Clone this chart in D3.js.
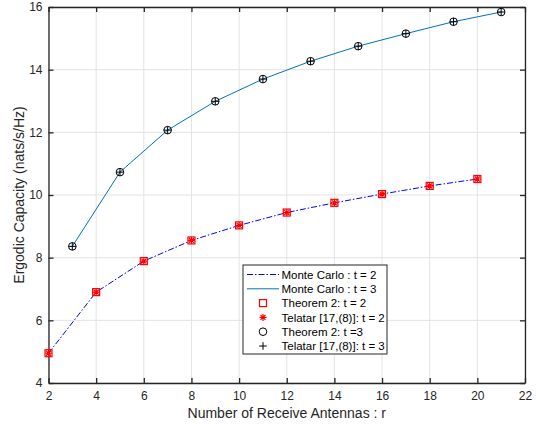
<!DOCTYPE html>
<html>
<head>
<meta charset="utf-8">
<script src="https://cdn.jsdelivr.net/npm/d3@7"></script>
<style>
  body { margin: 0; background: #fff; }
  text { font-family: "Liberation Sans", Arial, sans-serif; }
</style>
</head>
<body>
<svg id="chart" width="536" height="424"></svg>
<script>
// data
let r_t2 = [2, 4, 6, 8, 10, 12, 14, 16, 18, 20];
let cap_t2 = [4.95, 6.90, 7.89, 8.55, 9.03, 9.44, 9.75, 10.03, 10.29, 10.51];
let r_t3 = [3, 5, 7, 9, 11, 13, 15, 17, 19, 21];
let cap_t3 = [8.36, 10.73, 12.07, 12.99, 13.70, 14.27, 14.75, 15.15, 15.53, 15.84];
let x_ticks = [2, 4, 6, 8, 10, 12, 14, 16, 18, 20, 22];
let y_ticks = [4, 6, 8, 10, 12, 14, 16];
let legend_labels = ["Monte Carlo : t = 2", "Monte Carlo : t = 3", "Theorem 2: t = 2",
  "Telatar [17,(8)]: t = 2", "Theorem 2: t =3", "Telatar [17,(8)]: t = 3"];

let margin = {left: 48.5, right: 11, top: 7, bottom: 41}
  , W = 536, H = 424
  , svg = d3.select("#chart");

let x = d3.scaleLinear().domain([2, 22]).range([margin.left, W - margin.right]);
let y = d3.scaleLinear().domain([4, 16]).range([H - margin.bottom, margin.top]);

let axis_color = "#262626", grid_color = "#e3e3e3";

// grid
svg.append("g").selectAll("line").data(x_ticks).join("line")
  .attr("x1", d => x(d)).attr("x2", d => x(d))
  .attr("y1", y(4)).attr("y2", y(16))
  .attr("stroke", grid_color).attr("stroke-width", 1);
svg.append("g").selectAll("line").data(y_ticks).join("line")
  .attr("y1", d => y(d)).attr("y2", d => y(d))
  .attr("x1", x(2)).attr("x2", x(22))
  .attr("stroke", grid_color).attr("stroke-width", 1);

// axes (ticks point inwards, box on)
let ax_bottom = svg.append("g").attr("transform", `translate(0,${y(4)})`)
  .call(d3.axisBottom(x).tickValues(x_ticks).tickSizeInner(-5).tickSizeOuter(0).tickPadding(8));
let ax_left = svg.append("g").attr("transform", `translate(${x(2)},0)`)
  .call(d3.axisLeft(y).tickValues(y_ticks).tickSizeInner(-5).tickSizeOuter(0).tickPadding(6));
let ax_top = svg.append("g").attr("transform", `translate(0,${y(16)})`)
  .call(d3.axisTop(x).tickValues(x_ticks).tickSizeInner(-5).tickSizeOuter(0).tickFormat(""));
let ax_right = svg.append("g").attr("transform", `translate(${x(22)},0)`)
  .call(d3.axisRight(y).tickValues(y_ticks).tickSizeInner(-5).tickSizeOuter(0).tickFormat(""));

for(let g of [ax_bottom, ax_left, ax_top, ax_right]) {
  g.selectAll("path, line").attr("stroke", axis_color).attr("stroke-width", 1.3);
  g.selectAll("text").attr("fill", axis_color).style("font-size", "12px")
    .style("font-family", "Liberation Sans, Arial, sans-serif");
}

// axis labels
svg.append("text").attr("x", (x(2) + x(22)) / 2).attr("y", 418)
  .attr("text-anchor", "middle").attr("fill", axis_color)
  .style("font-size", "14px").text("Number of Receive Antennas : r");
svg.append("text").attr("transform", `translate(24,${(y(4) + y(16)) / 2}) rotate(-90)`)
  .attr("text-anchor", "middle").attr("fill", axis_color)
  .style("font-size", "14px").text("Ergodic Capacity (nats/s/Hz)");

// lines
let line = d3.line().x(d => x(d[0])).y(d => y(d[1]));
let pts2 = r_t2.map((r, i) => [r, cap_t2[i]]);
let pts3 = r_t3.map((r, i) => [r, cap_t3[i]]);

svg.append("path").datum(pts2).attr("d", line).attr("fill", "none")
  .attr("stroke", "#0000ff").attr("stroke-width", 1).attr("stroke-dasharray", "6,2,1.5,2");
svg.append("path").datum(pts3).attr("d", line).attr("fill", "none")
  .attr("stroke", "#0072bd").attr("stroke-width", 1);

// markers
function drawSquare(g, cx, cy) {
  g.append("rect").attr("x", cx - 3.5).attr("y", cy - 3.5).attr("width", 7).attr("height", 7)
    .attr("fill", "none").attr("stroke", "#ff0000").attr("stroke-width", 1.2);
}
function drawStar(g, cx, cy) {
  let s = 3.5, d = s * 0.707;
  let p = `M${cx-s},${cy}L${cx+s},${cy}M${cx},${cy-s}L${cx},${cy+s}` +
    `M${cx-d},${cy-d}L${cx+d},${cy+d}M${cx-d},${cy+d}L${cx+d},${cy-d}`;
  g.append("path").attr("d", p).attr("stroke", "#ff0000").attr("stroke-width", 1.2);
}
function drawCircle(g, cx, cy) {
  g.append("circle").attr("cx", cx).attr("cy", cy).attr("r", 3.8)
    .attr("fill", "none").attr("stroke", "#000").attr("stroke-width", 1);
}
function drawPlus(g, cx, cy) {
  let s = 3.8;
  g.append("path").attr("d", `M${cx-s},${cy}L${cx+s},${cy}M${cx},${cy-s}L${cx},${cy+s}`)
    .attr("stroke", "#000").attr("stroke-width", 1);
}

let mk = svg.append("g");
for(let p of pts2) {
  drawSquare(mk, x(p[0]), y(p[1]));
  drawStar(mk, x(p[0]), y(p[1]));
}
for(let p of pts3) {
  drawCircle(mk, x(p[0]), y(p[1]));
  drawPlus(mk, x(p[0]), y(p[1]));
}

// legend
let lg = svg.append("g").attr("transform", "translate(243,265)");
lg.append("rect").attr("width", 144).attr("height", 89)
  .attr("fill", "#fff").attr("stroke", axis_color).attr("stroke-width", 1);
let row_y = i => 9.5 + i * 14.3;
lg.append("line").attr("x1", 4).attr("x2", 36).attr("y1", row_y(0)).attr("y2", row_y(0))
  .attr("stroke", "#0000ff").attr("stroke-dasharray", "6,2,1.5,2");
lg.append("line").attr("x1", 4).attr("x2", 36).attr("y1", row_y(1)).attr("y2", row_y(1))
  .attr("stroke", "#0072bd");
drawSquare(lg, 20, row_y(2));
drawStar(lg, 20, row_y(3));
drawCircle(lg, 20, row_y(4));
drawPlus(lg, 20, row_y(5));
lg.selectAll("text.lbl").data(legend_labels).join("text").attr("class", "lbl")
  .attr("x", 38.5).attr("y", (d, i) => row_y(i) + 4.2)
  .attr("fill", "#000").style("font-size", "11.5px").text(d => d);
</script>
</body>
</html>
